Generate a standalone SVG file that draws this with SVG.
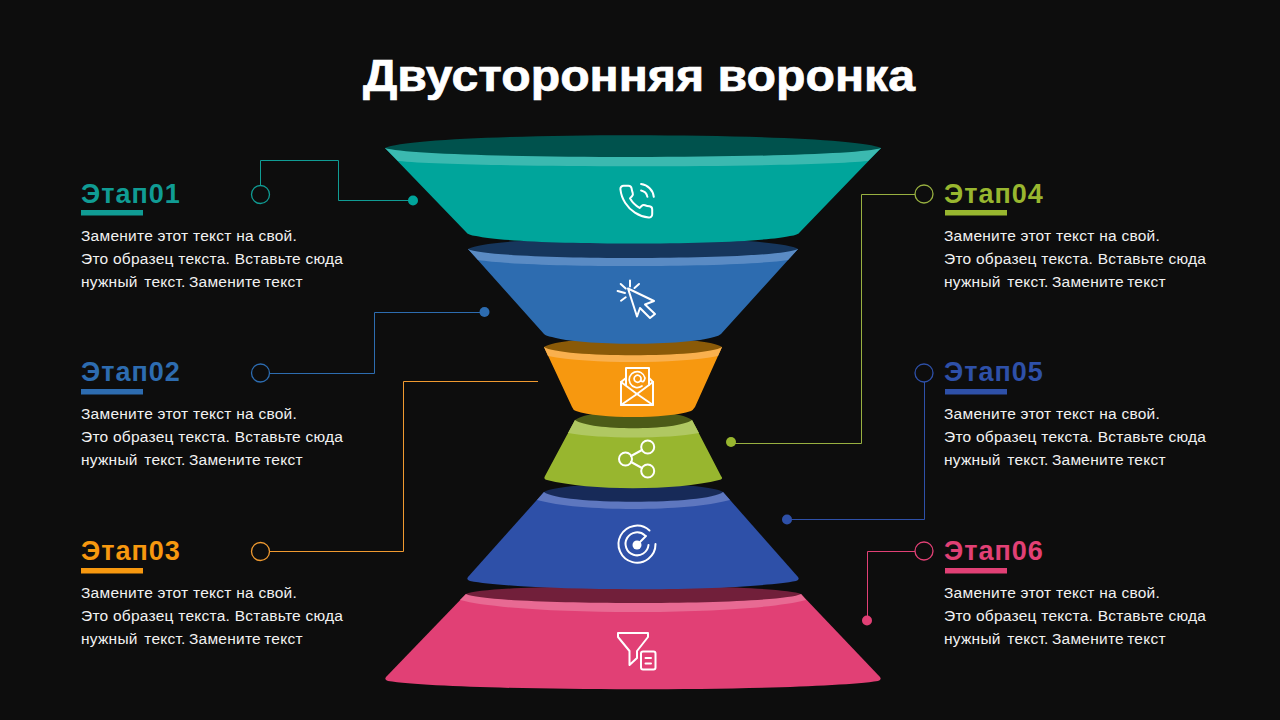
<svg xmlns="http://www.w3.org/2000/svg" width="1280" height="720" viewBox="0 0 1280 720">
<style>
text{font-family:"Liberation Sans",Arial,sans-serif}
.title{font-size:44px;font-weight:700;fill:#fff;stroke:#fff;stroke-width:.7px}
.lab{font-size:27px;font-weight:700;letter-spacing:1px}
.body{font-size:15.5px;fill:#f2f2f2;letter-spacing:.25px}
.tight{word-spacing:-1.300px}
.ic{fill:none;stroke:#fff;stroke-width:2;stroke-linecap:round;stroke-linejoin:round}
.ln{fill:none;stroke-width:1}
.ring{fill:#0d0d0d;stroke-width:1.300}
</style>
<rect width="1280" height="720" fill="#0d0d0d"/>
<text class="title" x="363" y="91" textLength="552" lengthAdjust="spacingAndGlyphs">Двусторонняя воронка</text>

<g id="connectors">
<path class="ln" stroke="#109c94" d="M260.500,186V160.500H338.500V200.500H413"/><circle cx="413" cy="200.500" r="5" fill="#00a59b"/>
<path class="ln" stroke="#2d6cb0" d="M270,373.500H374.500V312.500H484"/><circle cx="484.500" cy="312" r="5" fill="#2d6cb0"/>
<path class="ln" stroke="#f09a30" d="M270,551.500H403.500V381.500H538"/>
<path class="ln" stroke="#98b040" d="M915,194.500H861.500V443.500H731"/><circle cx="731" cy="442" r="5" fill="#98b62f"/>
<path class="ln" stroke="#2e50a8" d="M924.500,382V519.500H787"/><circle cx="787" cy="519.500" r="5" fill="#2e50a8"/>
<path class="ln" stroke="#e14075" d="M915,551.500H867.500V620"/><circle cx="867" cy="620.500" r="5" fill="#e14075"/>
</g>

<g id="seg6">
<path fill="#e14075" d="M466,594L386,677Q384,680 388,681C460,692 806,692 878,681Q882,680 880,677L801,594Z"/>
<path fill="#e86a93" d="M466,594L460,600C520,616 746,616 806,600L801,594Z"/>
<path fill="#711f3a" d="M466,594C490,583 777,583 801,594C777,606 490,606 466,594Z"/>
<g class="ic"><path d="M618,633H648V637L637,651V658L629.500,665V651L618,637Z"/><rect x="641" y="651.500" width="14.500" height="18" rx="2"/><path d="M645.500,658H651M645.500,663.500H651"/></g>
</g>
<g id="seg5">
<path fill="#2e50a8" d="M544,492L468,577Q466,580 470,581C530,592 736,592 796,581Q800,580 798,577L723,492Z"/>
<path fill="#5e77bf" d="M544,492L537,500C580,512 686,512 730,500L723,492Z"/>
<path fill="#172a58" d="M544,492C560,481 707,481 723,492C707,505 560,505 544,492Z"/>
<g class="ic"><path d="M649.500,530.500A18.500,18.500 0 1 0 655.500,544"/><path d="M645,535.500A11.500,11.500 0 1 0 648.500,545"/><path d="M637,545L646,536"/></g><circle cx="637" cy="545" r="4.500" fill="#fff"/>
</g>
<g id="seg4">
<path fill="#98b62f" d="M575,420L545,476Q543,479 547,480C590,491 676,491 719,480Q724,479 721,476L692,420Z"/>
<path fill="#b0c862" d="M575,420L568,433C600,439 668,439 699,433L692,420Z"/>
<path fill="#4c5b17" d="M575,420C590,408 677,408 692,420C677,431 590,431 575,420Z"/>
<g class="ic"><circle cx="647.700" cy="447" r="6.500"/><circle cx="625.500" cy="459" r="6.500"/><circle cx="647.700" cy="471" r="6.500"/><path d="M642,450L631,456M631,462L642,468"/></g>
</g>
<g id="seg3">
<path fill="#f7980f" d="M544,347L572,407Q573,410 576,411C600,419 666,419 691,411Q693,410 695,407L722,347Z"/>
<path fill="#f9b04e" d="M544,347L548,356C590,364 676,364 718,356L722,347Z"/>
<path fill="#8a5a08" d="M544,347C560,335 706,335 722,347C706,358 560,358 544,347Z"/>
<g class="ic"><path d="M626,385V368H649V385"/><path d="M626,378L621,382V405H653V382L649,378"/><path d="M621,382L637,394L653,382"/><path d="M621,405L637,394L653,405"/><path d="M641,379.500A3.500,3.500 0 1 1 641,378V381Q644,383 645,378A8,8 0 1 0 642,386" stroke-width="1.700"/></g>
</g>
<g id="seg2">
<path fill="#2d6cb0" d="M468,249L544,334Q546,336 552,337C580,346 686,346 714,337Q719,336 721,334L798,249Z"/>
<path fill="#5a8bc4" d="M468,249L478,260C530,268 736,268 788,260L798,249Z"/>
<path fill="#16365c" d="M468,249C490,234 776,234 798,249C776,261 490,261 468,249Z"/>
<g class="ic"><path d="M628,288.500L654,301L645,304.500L655,314L650,318L640,308L637,316.500Z"/><path d="M630,280.500V286.500M639,284L634.500,288M620.700,284L625.700,288.500M617.600,291L625,293M621,300.700L625.700,297.300"/></g>
</g>
<g id="seg1">
<path fill="#00a59b" d="M385,148L466,232Q468,235 476,236C520,246 746,246 790,236Q798,235 800,232L881,148Z"/>
<path fill="#3bb9b0" d="M385,148L398,161C470,168 796,168 868,161L881,148Z"/>
<path fill="#00524d" d="M385,148C420,131 846,131 881,148C846,160 420,160 385,148Z"/>
<g transform="translate(617,182.500) scale(1.600)"><path d="M15.050 5A5 5 0 0 1 19 8.950M15.050 1A9 9 0 0 1 23 8.940m-1 7.980v3a2 2 0 0 1-2.180 2 19.790 19.790 0 0 1-8.630-3.070 19.500 19.500 0 0 1-6-6 19.790 19.790 0 0 1-3.070-8.670A2 2 0 0 1 4.110 2h3a2 2 0 0 1 2 1.720 12.840 12.840 0 0 0 .7 2.810 2 2 0 0 1-.45 2.110L8.090 9.910a16 16 0 0 0 6 6l1.270-1.270a2 2 0 0 1 2.110-.45 12.840 12.840 0 0 0 2.810.7A2 2 0 0 1 22 16.920z" fill="none" stroke="#fff" stroke-width="1.250" stroke-linecap="round" stroke-linejoin="round"/></g>
</g>

<g id="stage1">
<circle class="ring" cx="260.500" cy="194.500" r="9" stroke="#109c94"/>
<text class="lab" x="81" y="203" fill="#109c94">Этап01</text><rect x="81" y="210" width="62" height="5.500" fill="#109c94"/>
<text class="body" x="81" y="241">Замените этот текст на свой.</text><text class="body" x="81" y="264">Это образец текста. Вставьте сюда</text><text class="body tight" x="81" y="287" xml:space="preserve">нужный  текст. Замените текст</text>
</g>
<g id="stage2">
<circle class="ring" cx="260.500" cy="373" r="9" stroke="#2d6cb0"/>
<text class="lab" x="81" y="381" fill="#2d6cb0">Этап02</text><rect x="81" y="389" width="62" height="5.500" fill="#2d6cb0"/>
<text class="body" x="81" y="419">Замените этот текст на свой.</text><text class="body" x="81" y="442">Это образец текста. Вставьте сюда</text><text class="body tight" x="81" y="465" xml:space="preserve">нужный  текст. Замените текст</text>
</g>
<g id="stage3">
<circle class="ring" cx="260.500" cy="551.500" r="9" stroke="#f09a30"/>
<text class="lab" x="81" y="560" fill="#f7980f">Этап03</text><rect x="81" y="568" width="62" height="5.500" fill="#f7980f"/>
<text class="body" x="81" y="598">Замените этот текст на свой.</text><text class="body" x="81" y="621">Это образец текста. Вставьте сюда</text><text class="body tight" x="81" y="644" xml:space="preserve">нужный  текст. Замените текст</text>
</g>
<g id="stage4">
<circle class="ring" cx="924" cy="194" r="9" stroke="#98b040"/>
<text class="lab" x="944" y="203" fill="#98b62f">Этап04</text><rect x="945" y="210" width="62" height="5.500" fill="#98b62f"/>
<text class="body" x="944" y="241">Замените этот текст на свой.</text><text class="body" x="944" y="264">Это образец текста. Вставьте сюда</text><text class="body tight" x="944" y="287" xml:space="preserve">нужный  текст. Замените текст</text>
</g>
<g id="stage5">
<circle class="ring" cx="924" cy="373" r="9" stroke="#2e50a8"/>
<text class="lab" x="944" y="381" fill="#2e50a8">Этап05</text><rect x="945" y="389" width="62" height="5.500" fill="#2e50a8"/>
<text class="body" x="944" y="419">Замените этот текст на свой.</text><text class="body" x="944" y="442">Это образец текста. Вставьте сюда</text><text class="body tight" x="944" y="465" xml:space="preserve">нужный  текст. Замените текст</text>
</g>
<g id="stage6">
<circle class="ring" cx="924" cy="551" r="9" stroke="#e14075"/>
<text class="lab" x="944" y="560" fill="#e14075">Этап06</text><rect x="945" y="568" width="62" height="5.500" fill="#e14075"/>
<text class="body" x="944" y="598">Замените этот текст на свой.</text><text class="body" x="944" y="621">Это образец текста. Вставьте сюда</text><text class="body tight" x="944" y="644" xml:space="preserve">нужный  текст. Замените текст</text>
</g>
</svg>
